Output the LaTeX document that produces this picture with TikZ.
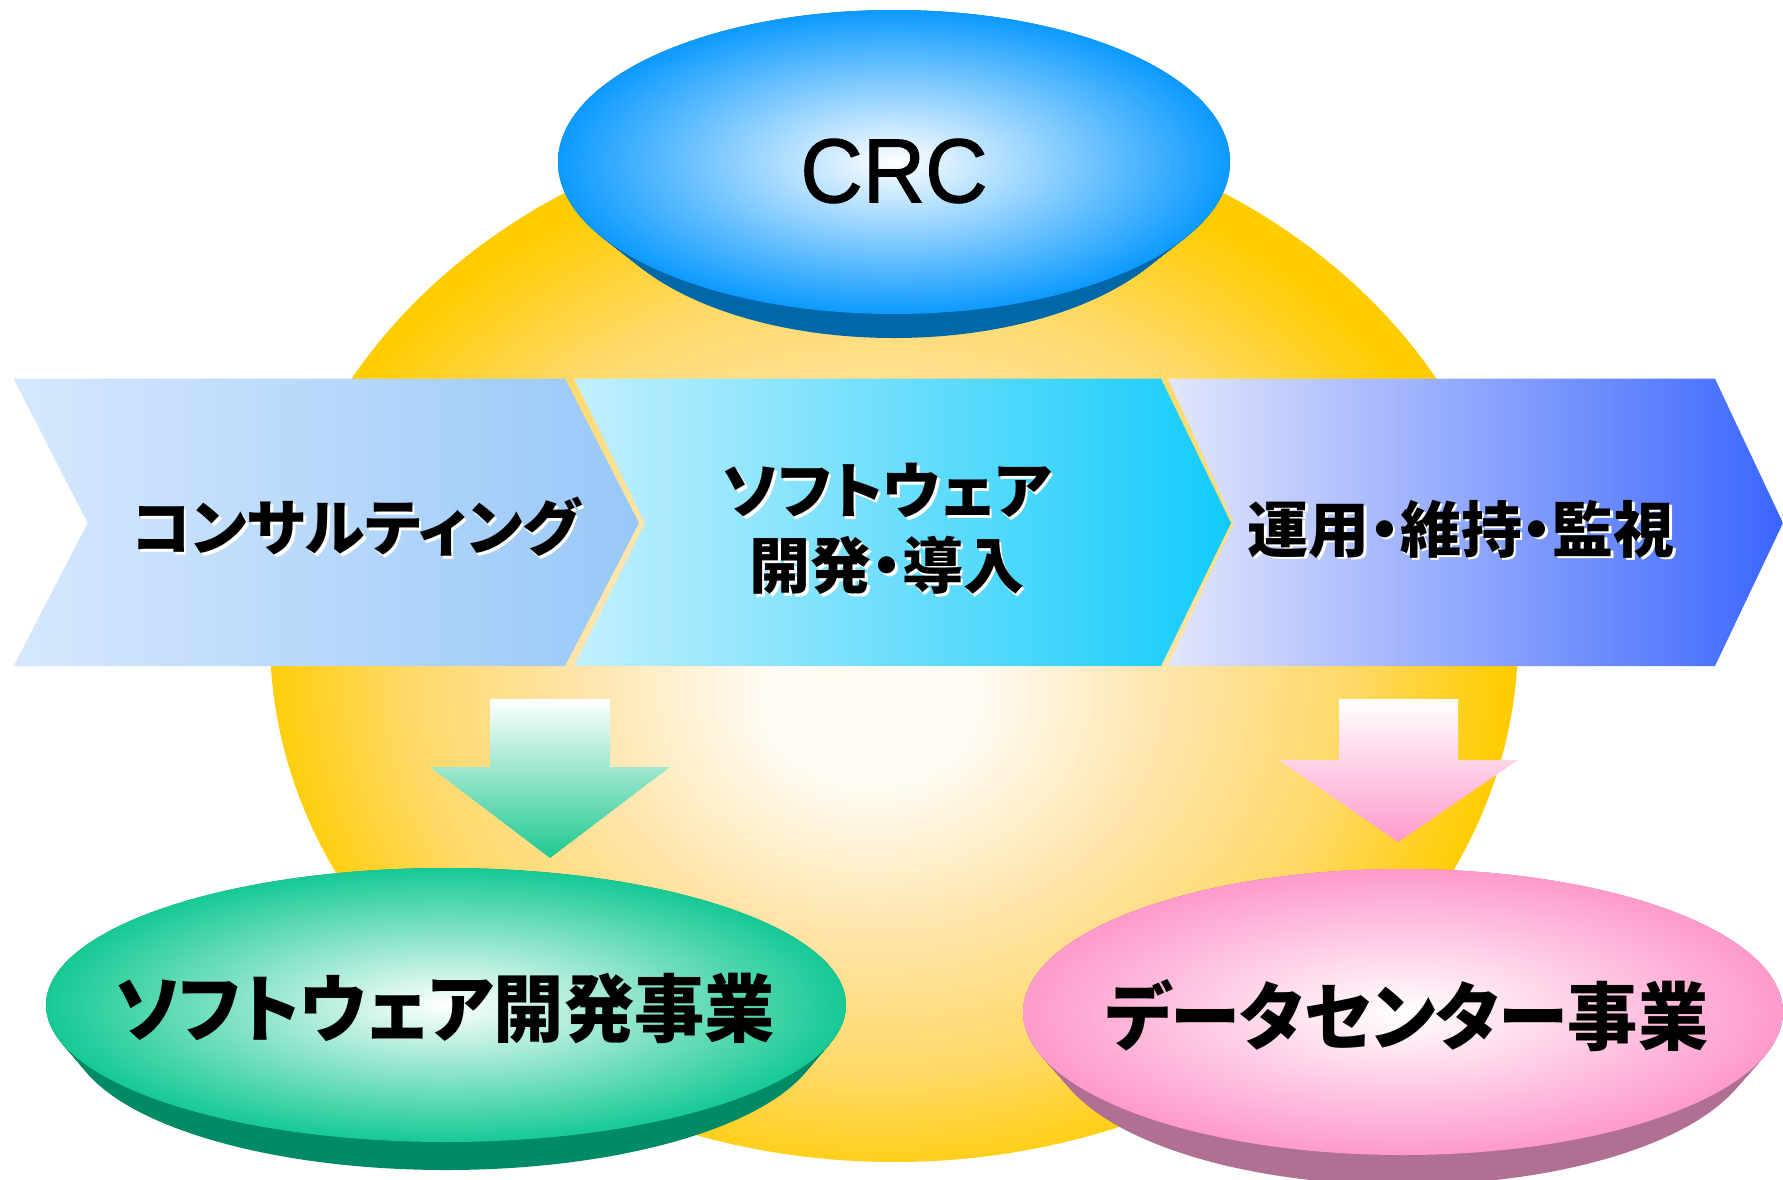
\documentclass[tikz,border=0pt]{standalone}
\usepackage{fontspec}
\newfontfamily\jp[RawFeature=+palt]{Noto Sans CJK JP}
\newfontfamily\jpn[RawFeature=+palt, FakeStretch=0.95]{Noto Sans CJK JP}
\newfontfamily\latinsans[FakeBold=1.2, FakeStretch=0.95]{Liberation Sans}
\definecolor{sunA}{HTML}{FFCC00}
\definecolor{sunB}{HTML}{FFE4A8}
\definecolor{sunC}{HTML}{FFFCF6}
\definecolor{sunD}{HTML}{FFD966}
\definecolor{crcedge}{HTML}{0C9AFE}
\definecolor{crcside}{HTML}{0067A8}
\definecolor{swedge}{HTML}{16C995}
\definecolor{swside}{HTML}{008A66}
\definecolor{dcedge}{HTML}{FE9ACC}
\definecolor{dcside}{HTML}{B06F94}
\definecolor{chAl}{HTML}{D6E8FD}
\definecolor{chAr}{HTML}{98C8F8}
\definecolor{chBl}{HTML}{C2F0FD}
\definecolor{chBr}{HTML}{12CBFB}
\definecolor{chCl}{HTML}{E2E6FC}
\definecolor{chCr}{HTML}{3A66FE}
\definecolor{arrG}{HTML}{1DC890}
\definecolor{arrP}{HTML}{FF9ACB}
\pgfdeclareradialshading{sunshade}{\pgfpoint{-1bp}{-3bp}}{color(0bp)=(sunC); color(4bp)=(sunC); color(12bp)=(sunB); color(19bp)=(sunD); color(25bp)=(sunA); color(50bp)=(sunA)}
\tikzset{
  chevtext/.style={font=\jp\bfseries\fontsize{61}{75}\selectfont, text=black, inner sep=0pt, align=center},
  chevshadow/.style={chevtext, text=white},
  bigtext/.style={font=\jpn\bfseries\fontsize{74}{80}\selectfont, text=black, inner sep=0pt},
}
\begin{document}
\begin{tikzpicture}[x=1pt,y=-1pt]
\useasboundingbox (0,0) rectangle (1783,1179);
% sun
\shade[shading=sunshade] (894,638) ellipse [x radius=624, y radius=524];
% CRC disc
\foreach \i in {0,...,24}{
  \pgfmathsetmacro\s{\i/24}
  \fill[crcside] (894,{186-24*\s}) ellipse [x radius={300+36*\s}, y radius=152];
}
\shade[inner color=white, outer color=crcedge] (894,162) ellipse [x radius=336, y radius=152];
\node[font=\latinsans\fontsize{91}{100}\selectfont, inner sep=0pt] (crc) at (894,171) {CRC};
% chevrons
\path[left color=chAl, right color=chAr]
  (13.6,378.7) -- (565,378.7) -- (639,523) -- (565,666) -- (13.6,666) -- (87.6,523) -- cycle;
\path[left color=chBl, right color=chBr]
  (574,378.7) -- (1161,378.7) -- (1231,523) -- (1161,666) -- (574,666) -- (645,523) -- cycle;
\path[left color=chCl, right color=chCr]
  (1168,378.7) -- (1715,378.7) -- (1783,523) -- (1715,666) -- (1168,666) -- (1234,523) -- cycle;
\node[chevshadow] (consultS) at (358.5,529.5) {コンサルティング};
\node[chevtext] (consult) at (356,527) {コンサルティング};
\node[chevshadow] (devS) at (889.5,531.5) {ソフトウェア\\開発・導入};
\node[chevtext] (dev) at (887,529) {ソフトウェア\\開発・導入};
\node[chevshadow] (opS) at (1463.5,531.5) {運用・維持・監視};
\node[chevtext] (op) at (1461,529) {運用・維持・監視};
% arrows
\shade[top color=white, bottom color=arrG]
  (490,699) -- (610,699) -- (610,767) -- (670,767) -- (550,858) -- (430,767) -- (490,767) -- cycle;
\shade[top color=white, bottom color=arrP]
  (1339,699) -- (1458,699) -- (1458,760) -- (1518,760) -- (1398,842) -- (1279,760) -- (1339,760) -- cycle;
% software disc
\foreach \i in {0,...,24}{
  \pgfmathsetmacro\s{\i/24}
  \fill[swside] (446,{1033-28*\s}) ellipse [x radius={375+25*\s}, y radius=137];
}
\shade[inner color=white, outer color=swedge] (446,1005) ellipse [x radius=400, y radius=137];
\node[bigtext] (swbiz) at (445,1008) {ソフトウェア開発事業};
% datacenter disc
\foreach \i in {0,...,24}{
  \pgfmathsetmacro\s{\i/24}
  \fill[dcside] (1403,{1042-30*\s}) ellipse [x radius={352+28*\s}, y radius=143];
}
\shade[inner color=white, outer color=dcedge] (1403,1012) ellipse [x radius=380, y radius=143];
\node[bigtext] (dcbiz) at (1407,1016) {データセンター事業};
\end{tikzpicture}
\end{document}
